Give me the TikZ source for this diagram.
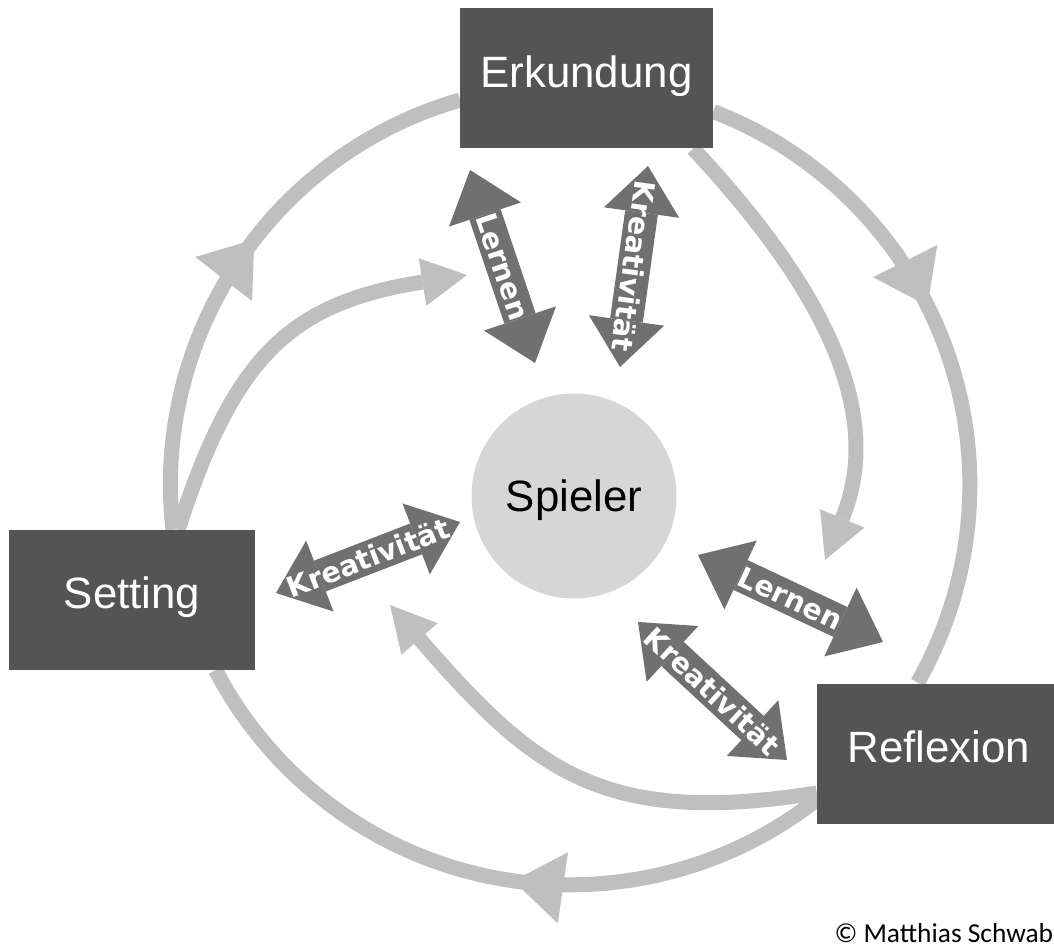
\documentclass[tikz,border=0pt]{standalone}
\usepackage{fontspec}
\setmainfont{Liberation Sans}
\newfontfamily\linkfont{DejaVu Sans}
\newfontfamily\notefont{Carlito}
\usetikzlibrary{arrows.meta,decorations.markings,backgrounds}

\colorlet{phase area}{black!67}
\colorlet{ring edge}{black!25}
\colorlet{link area}{black!56}
\colorlet{player area}{black!16}
\tikzset{phase/.style={fill=phase area, text=white, minimum height=140bp, inner sep=0pt,
      text height=33bp, text depth=15bp, font=\fontsize{44}{48}\selectfont},
    player/.style={circle, fill=player area, minimum size=205bp, inner sep=0pt,
      text depth=0pt, font=\fontsize{44}{48}\selectfont},
    ring/.style={draw=ring edge, line width=15bp},
    feed/.style={ring, -{Triangle[width=48bp,length=45bp,line width=0pt]}},
    midtip/.style={postaction={decorate}, decoration={markings,
      mark=at position #1 with {\arrow{Triangle[width=72bp,length=50bp,line width=0pt]}}}},
    link/.style={draw=link area, line width=33bp,
      {Triangle[width=76bp,length=47bp,line width=0pt]}-{Triangle[width=76bp,length=47bp,line width=0pt]}},
    linktext/.style={sloped, allow upside down, text=white, inner sep=0pt,
      font=\linkfont\bfseries\fontsize{28.5}{28.5}\selectfont}}

\begin{document}
\begin{tikzpicture}[x=1bp, y=1bp]
  \useasboundingbox (0,0) rectangle (1054,947);
  \clip (0,0) rectangle (1054,947);
  \node[phase, minimum width=253bp] (erk) at (586.5,868.5) {Erkundung};
  \node[phase, minimum width=246bp] (set) at (132,347) {Setting};
  \node[phase, minimum width=244bp] (ref) at (939,193) {Reflexion};
  \node[player] (sp) at (574,451) {Spieler};
  \node[anchor=base west, font=\notefont\fontsize{27.5}{27.5}\selectfont] (copy) at (831,4) {© Matthias Schwabe};
  % free ends of the arrows
  \coordinate (tipA) at (467,672);
  \coordinate (tipB) at (825,387);
  \coordinate (tipC) at (390,342);
  \coordinate (l1a) at (470,777); \coordinate (l1b) at (535,584);
  \coordinate (k1a) at (648,781); \coordinate (k1b) at (620,580);
  \coordinate (k2a) at (276,354); \coordinate (k2b) at (460,425);
  \coordinate (l2a) at (698,392); \coordinate (l2b) at (883,305);
  \coordinate (k3a) at (638,325); \coordinate (k3b) at (787,187);
  \begin{scope}[on background layer]
    % outer cycle
    \draw[ring, midtip=0.55] ([xshift=41bp]set.north) arc[start angle=186.5, end angle=106, radius=400bp];
    \draw[ring, midtip=0.43] ([yshift=-33bp]erk.east) arc[start angle=69, end angle=-29.6, radius=400bp];
    \draw[ring, midtip=0.46] ([yshift=-45.6bp]ref.west) arc[start angle=-51.9, end angle=-152.4, radius=400bp];
    % inner arrows
    \draw[feed] ([xshift=46bp]set.north) to[out=72, in=189, looseness=1.2] (tipA);
    \draw[feed] ([xshift=-20bp]erk.south east) to[out=-47, in=67.5] (tipB);
    \draw[feed] ([yshift=-39bp]ref.west) to[out=189, in=-49, looseness=1.2] (tipC);
  \end{scope}
  \draw[link] (l1a) -- node[linktext] {Lernen} (l1b);
  \draw[link] (k1a) -- node[linktext] {Kreativität} (k1b);
  \draw[link] (k2a) -- node[linktext] {Kreativität} (k2b);
  \draw[link] (l2a) -- node[linktext] {Lernen} (l2b);
  \draw[link] (k3a) -- node[linktext] {Kreativität} (k3b);
\end{tikzpicture}
\end{document}
